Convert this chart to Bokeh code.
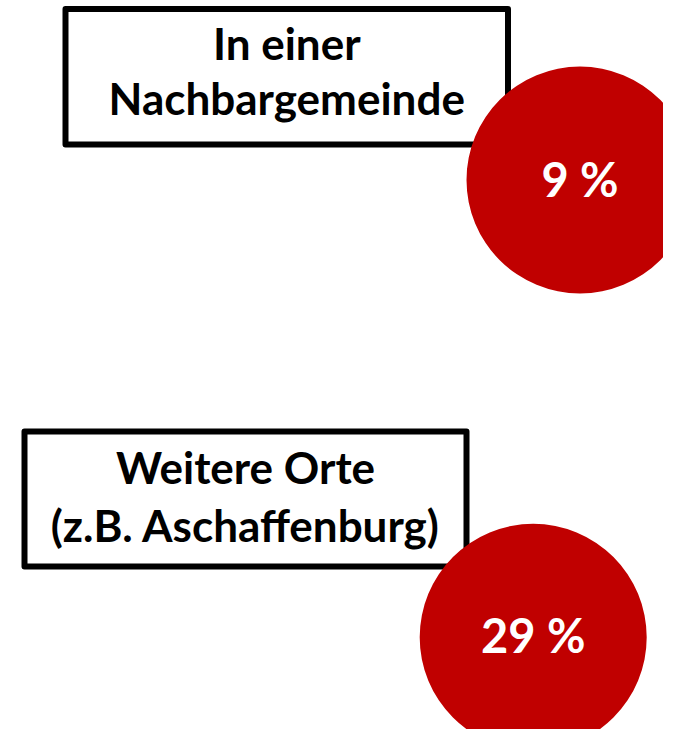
from bokeh.plotting import figure
from bokeh.models import Range1d, ColumnDataSource
from bokeh.core.properties import value
from bokeh.embed import file_html
from bokeh.resources import INLINE

# data
labels_line1 = ["In einer", "Weitere Orte"]
labels_line2 = ["Nachbargemeinde", "(z.B. Aschaffenburg)"]
percents = [9, 29]

# layout (screen pixel coordinates of the reference)
box_left = [65, 24]
box_right = [507.5, 466]
box_top = [8.5, 431]
box_bottom = [144, 566]
line1_y = [42.5, 466.5]
line2_y = [97, 524.5]
circle_x = [579.5, 532.7]
circle_y = [179.5, 636.8]
pct_y = [178, 634.8]
circle_r = 113.5

p = figure(width=663, height=729, output_backend="svg", toolbar_location=None,
           x_range=Range1d(0, 663), y_range=Range1d(729, 0),
           min_border=0, outline_line_color=None)
p.axis.visible = False
p.grid.visible = False

box_src = ColumnDataSource(dict(left=box_left, right=box_right, top=box_top, bottom=box_bottom))
p.quad(left="left", right="right", top="top", bottom="bottom", source=box_src,
       fill_color="white", line_color="black", line_width=6, line_join="round")

cx = [(l + r) / 2 for l, r in zip(box_left, box_right)]
p.text(x=cx, y=line1_y, text=labels_line1, text_align="center", text_baseline="middle",
       text_font=value("Lato"), text_font_style="bold", text_font_size="44px", text_color="black")
p.text(x=cx, y=line2_y, text=labels_line2, text_align="center", text_baseline="middle",
       text_font=value("Lato"), text_font_style="bold", text_font_size="44px", text_color="black")

p.circle(x=circle_x, y=circle_y, radius=circle_r, fill_color="#C00000", line_color=None)
p.text(x=circle_x, y=pct_y, text=[f"{v} %" for v in percents], text_align="center",
       text_baseline="middle", text_font=value("Lato"), text_font_style="bold",
       text_font_size="47px", text_color="white")

open("out.html", "w").write(file_html(p, INLINE))
